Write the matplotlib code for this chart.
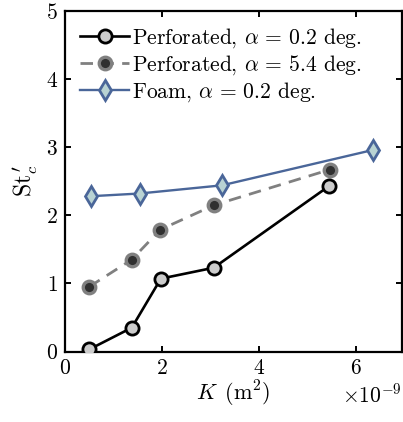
import matplotlib

matplotlib.use("Agg")
import matplotlib.pyplot as plt

plt.rcParams["font.family"] = "serif"
plt.rcParams["font.serif"] = ["cmr10", "DejaVu Serif"]
plt.rcParams["mathtext.fontset"] = "cm"
plt.rcParams["axes.formatter.use_mathtext"] = True

# permeability K (m^2) and critical Strouhal number
k_perf_02 = [0.50e-9, 1.38e-9, 1.98e-9, 3.07e-9, 5.45e-9]
st_perf_02 = [0.03, 0.35, 1.07, 1.23, 2.43]
k_perf_54 = [0.50e-9, 1.38e-9, 1.97e-9, 3.08e-9, 5.46e-9]
st_perf_54 = [0.95, 1.35, 1.79, 2.15, 2.67]
k_foam = [0.53e-9, 1.54e-9, 3.24e-9, 6.36e-9]
st_foam = [2.28, 2.32, 2.44, 2.96]

labels = [r"Perforated, $\alpha\,=\,0.2$ deg.",
          r"Perforated, $\alpha\,=\,5.4$ deg.",
          r"Foam, $\alpha\,=\,0.2$ deg."]

C_FOAM = "#4a6699"
FS = 15.5

fig = plt.figure(figsize=(4.03, 4.22), dpi=100)
ax = fig.add_axes([0.161, 0.167, 0.836, 0.807])

ax.plot(k_perf_02, st_perf_02, "-o", color="black", lw=1.9, ms=9.5, mfc="#cccccc",
        mec="black", mew=2.0, label=labels[0], zorder=4)
ax.plot(k_perf_54, st_perf_54, "--o", color="#808080", lw=2.0, ms=9, mfc="#303030",
        mec="#808080", mew=2.4, dashes=(4.5, 3), label=labels[1], zorder=3)
ax.plot(k_foam, st_foam, "-d", color=C_FOAM, lw=1.7, ms=10.5, mfc="#b9d3d3",
        mec=C_FOAM, mew=2.0, label=labels[2], zorder=3)

ax.set_xlim(0, 6.95e-9)
ax.set_ylim(0, 5)
ax.set_xticks([0, 2e-9, 4e-9, 6e-9])
ax.set_yticks([0, 1, 2, 3, 4, 5])
ax.tick_params(direction="in", top=True, right=True, length=4, width=1.4,
               labelsize=FS, pad=5)
ax.xaxis.get_offset_text().set_fontsize(FS)
for s in ax.spines.values():
    s.set_linewidth(1.6)

ax.set_xlabel(r"$K\ \,(\mathrm{m}^2)$", fontsize=FS + 0.5, labelpad=1)
ax.set_ylabel(r"$\mathrm{St}_c^{\,\prime}$", fontsize=FS + 1.5, labelpad=4)

ax.legend(loc="upper left", frameon=False, fontsize=FS, handlelength=2.3,
          handletextpad=0.1, borderaxespad=0.3, labelspacing=0.15,
          bbox_to_anchor=(0.0, 1.0))

fig.savefig("out.png", dpi=100)
